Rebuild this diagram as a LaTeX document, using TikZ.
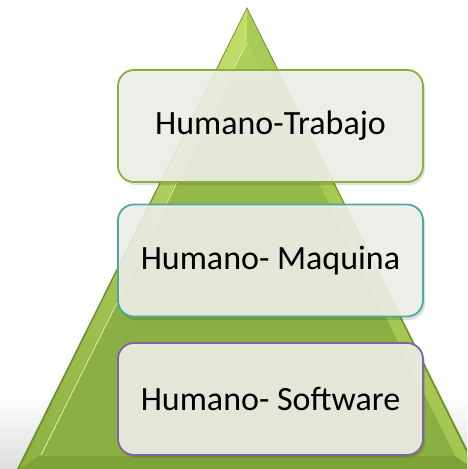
\documentclass[tikz,border=0pt]{standalone}
\usepackage{fontspec}
\setmainfont{Carlito}
\begin{document}
\begin{tikzpicture}[x=1pt,y=-1pt]
  \definecolor{pyrface}{HTML}{8BAF42}
  \definecolor{pyredge}{HTML}{6E922C}
  \definecolor{pyrlight}{HTML}{C3DF6A}
  \definecolor{pyrright}{HTML}{A2C650}
  \definecolor{pyrbottom}{HTML}{7FA238}
  \definecolor{tierfill}{HTML}{EEF0EA}
  \definecolor{tierA}{HTML}{8AB038}
  \definecolor{tierB}{HTML}{4FA7A3}
  \definecolor{tierC}{HTML}{8064A2}
  \tikzset{
    tier/.style={rounded corners=16pt, minimum width=305pt, minimum height=112pt,
      fill=tierfill, fill opacity=0.9, text opacity=1, line width=1.8pt,
      font=\fontsize{34}{40}\selectfont, inner sep=0pt},
    tiershadow/.style={fill=black, opacity=0.12, rounded corners=16pt}
  }
  \useasboundingbox (0,0) rectangle (467,469);
  \clip (0,0) rectangle (467,469);
  % floor
  \shade[top color=white, bottom color=black!13] (0,395) rectangle (467,469);
  % pyramid body with bevelled edges
  \fill[pyredge] (247,7) -- (16,471) -- (478,471) -- cycle;
  \fill[pyrface] (247,9) -- (19,470) -- (475,470) -- cycle;
  % left facet
  \shade[left color=pyrface, right color=pyrlight]
    (247,9) -- (19,470) -- (39,456) -- (247,40) -- cycle;
  % right facet
  \shade[left color=pyrright!80!pyrlight, right color=pyrright]
    (247,9) -- (247,40) -- (455,456) -- (475,470) -- cycle;
  % bottom facet
  \fill[pyrbottom] (19,470) -- (39,456) -- (455,456) -- (475,470) -- cycle;
  % inner face
  \shade[top color=pyrlight!70!pyrface, bottom color=pyrface, middle color=pyrface]
    (247,40) -- (39,456) -- (455,456) -- cycle;
  \draw[pyrlight!60!white, line width=1pt] (247,42) -- (41,455);
  % tier shadows
  \fill[tiershadow] (120,73) rectangle ++(305,112);
  \fill[tiershadow] (120,208) rectangle ++(305,112);
  \fill[tiershadow] (120,346) rectangle ++(305,112);
  % tiers
  \node[tier, draw=tierA] (trabajo)  at (270.5,126) {Humano-Trabajo};
  \node[tier, draw=tierB] (maquina)  at (270.5,260.5) {Humano- Maquina};
  \node[tier, draw=tierC] (software) at (270.5,399) {Humano- Software};
\end{tikzpicture}
\end{document}
